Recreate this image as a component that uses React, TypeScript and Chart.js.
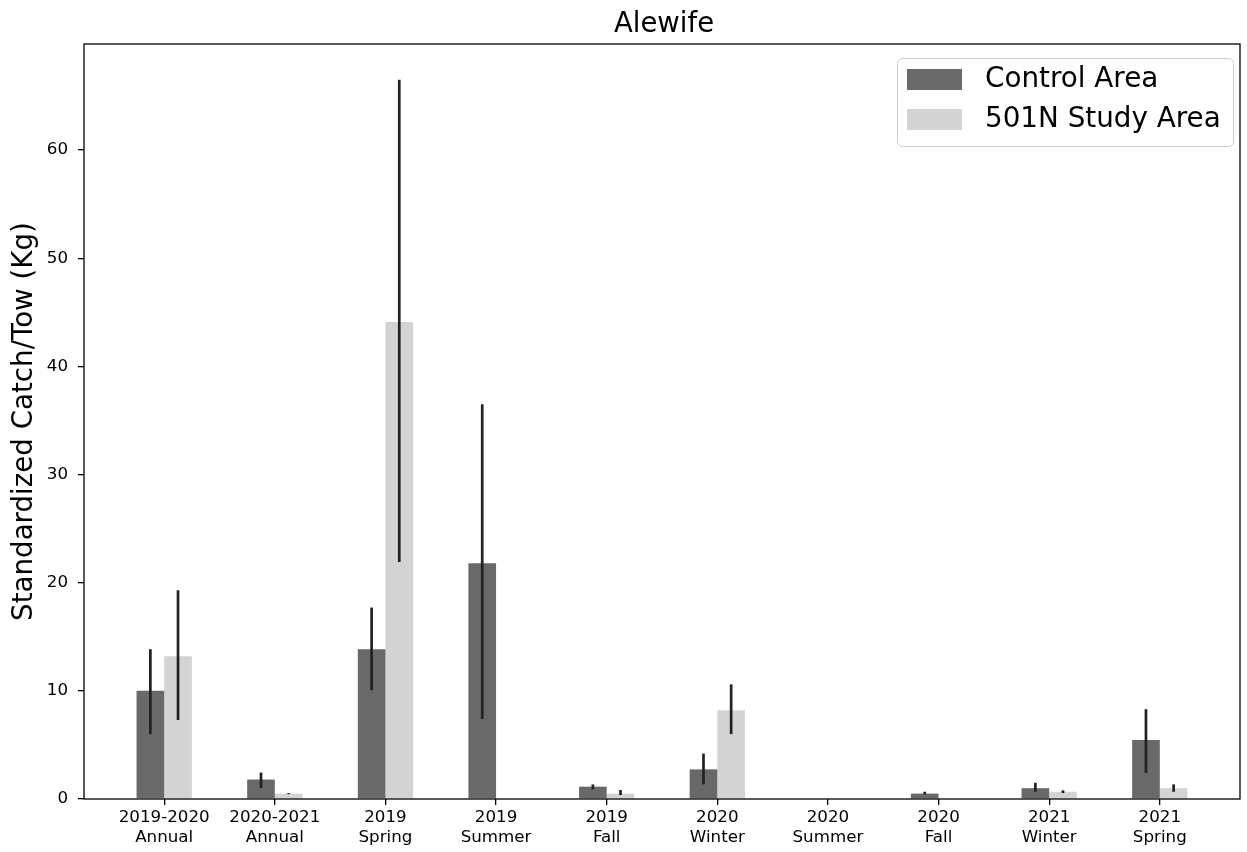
import { useEffect, useRef } from "react";
import { Chart, registerables } from "chart.js";

Chart.register(...registerables);

const FONT = "'DejaVu Sans', 'Noto Sans', sans-serif";

const chartTitle = "Alewife";
const yAxisTitle = "Standardized Catch/Tow (Kg)";
const seriesNames = ["Control Area", "501N Study Area"];
const seriesColors = ["#696969", "#d3d3d3"];

const categoryLines: string[][] = [
  ["2019-2020", "Annual"],
  ["2020-2021", "Annual"],
  ["2019", "Spring"],
  ["2019", "Summer"],
  ["2019", "Fall"],
  ["2020", "Winter"],
  ["2020", "Summer"],
  ["2020", "Fall"],
  ["2021", "Winter"],
  ["2021", "Spring"],
];

const controlValues = [10.0, 1.8, 13.85, 21.8, 1.14, 2.74, 0, 0.5, 1.0, 5.45];
const controlLow = [6.0, 1.0, 10.05, 7.4, 0.9, 1.35, null, 0.43, 0.67, 2.4];
const controlHigh = [13.85, 2.45, 17.7, 36.5, 1.35, 4.2, null, 0.67, 1.5, 8.3];

const studyValues = [13.2, 0.5, 44.1, 0, 0.5, 8.2, 0, 0, 0.67, 1.0];
const studyLow = [7.3, 0.45, 21.9, null, 0.37, 6.0, null, null, 0.55, 0.67];
const studyHigh = [19.3, 0.55, 66.5, null, 0.83, 10.6, null, null, 0.8, 1.35];

const yTickValues = [0, 10, 20, 30, 40, 50, 60];

const errorLows = [controlLow, studyLow];
const errorHighs = [controlHigh, studyHigh];

export default function App() {
  const ref = useRef<HTMLCanvasElement>(null);

  useEffect(() => {
    const canvas = ref.current!;

    const errorBarPlugin = {
      id: "errorBars",
      afterDatasetsDraw(chart: any) {
        const ctx = chart.ctx;
        const ys = chart.scales.y;
        ctx.save();
        ctx.strokeStyle = "#222222";
        ctx.lineWidth = 2.7;
        ctx.lineCap = "butt";
        chart.data.datasets.forEach((_: any, di: number) => {
          const meta = chart.getDatasetMeta(di);
          const lows = errorLows[di];
          const highs = errorHighs[di];
          meta.data.forEach((el: any, j: number) => {
            const lo = lows[j];
            const hi = highs[j];
            if (lo == null || hi == null) return;
            ctx.beginPath();
            ctx.moveTo(el.x, ys.getPixelForValue(lo));
            ctx.lineTo(el.x, ys.getPixelForValue(hi));
            ctx.stroke();
          });
        });
        ctx.restore();
      },
    };

    const framePlugin = {
      id: "frame",
      afterDatasetsDraw(chart: any) {
        const { ctx, chartArea } = chart;
        ctx.save();
        ctx.strokeStyle = "#000";
        ctx.lineWidth = 1.3;
        ctx.strokeRect(
          chartArea.left,
          chartArea.top,
          chartArea.right - chartArea.left,
          chartArea.bottom - chartArea.top
        );
        ctx.restore();
      },
    };

    const titlePlugin = {
      id: "customTitle",
      afterDraw(chart: any) {
        const { ctx, chartArea } = chart;
        ctx.save();
        ctx.fillStyle = "#000";
        ctx.font = `27.5px ${FONT}`;
        ctx.textAlign = "center";
        ctx.textBaseline = "alphabetic";
        ctx.fillText(chartTitle, (chartArea.left + chartArea.right) / 2 + 2, 32);
        ctx.restore();
      },
    };

    const legendPlugin = {
      id: "customLegend",
      afterDraw(chart: any) {
        const { ctx } = chart;
        ctx.save();
        const bx = 897.5, by = 58.5, bw = 336, bh = 88;
        ctx.beginPath();
        ctx.roundRect(bx, by, bw, bh, 5);
        ctx.fillStyle = "rgba(255,255,255,0.8)";
        ctx.fill();
        ctx.strokeStyle = "#cccccc";
        ctx.lineWidth = 1;
        ctx.stroke();
        ctx.font = `27.8px ${FONT}`;
        ctx.textAlign = "left";
        ctx.textBaseline = "middle";
        chart.data.datasets.forEach((ds: any, i: number) => {
          const py = 69 + i * 40;
          ctx.fillStyle = ds.backgroundColor;
          ctx.fillRect(907, py, 55, 21);
          ctx.fillStyle = "#000";
          ctx.fillText(ds.label, 985, py + 11);
        });
        ctx.restore();
      },
    };

    const chart = new Chart(canvas, {
      type: "bar",
      data: {
        datasets: [
          {
            label: seriesNames[0],
            data: controlValues.map((y, i) => ({ x: i, y })),
            backgroundColor: seriesColors[0],
            borderWidth: 0,
          },
          {
            label: seriesNames[1],
            data: studyValues.map((y, i) => ({ x: i, y })),
            backgroundColor: seriesColors[1],
            borderWidth: 0,
          },
        ],
      } as any,
      options: {
        responsive: false,
        animation: false,
        devicePixelRatio: 1,
        layout: { padding: { top: 44, right: 7, left: 0, bottom: 0 } },
        datasets: { bar: { categoryPercentage: 0.5, barPercentage: 1 } },
        plugins: {
          legend: { display: false },
          title: { display: false },
          tooltip: { enabled: false },
        },
        scales: {
          x: {
            type: "linear",
            min: -0.725,
            max: 9.725,
            offset: false,
            afterFit: (s: any) => {
              s.height = 53;
            },
            afterBuildTicks: (s: any) => {
              s.ticks = categoryLines.map((_, i) => ({ value: i }));
            },
            ticks: {
              callback: (v: any) => categoryLines[Math.round(Number(v))] ?? "",
              font: { family: FONT, size: 16.7 },
              color: "#000",
              padding: 3,
              maxRotation: 0,
              autoSkip: false,
            },
            grid: {
              drawOnChartArea: false,
              drawTicks: true,
              tickLength: 6,
              color: "#000",
              lineWidth: 1.3,
              offset: false,
            },
            border: { display: false },
          },
          y: {
            min: 0,
            max: 69.8,
            afterFit: (s: any) => {
              s.width = 84;
            },
            afterBuildTicks: (s: any) => {
              s.ticks = yTickValues.map((v) => ({ value: v }));
            },
            ticks: {
              callback: (v: any) => String(v),
              font: { family: FONT, size: 16.7 },
              color: "#000",
              padding: 10,
            },
            title: {
              display: true,
              text: yAxisTitle,
              font: { family: FONT, size: 27.7 },
              color: "#000",
              padding: { top: 8, bottom: 0 },
            },
            grid: {
              drawOnChartArea: false,
              drawTicks: true,
              tickLength: 6,
              color: "#000",
              lineWidth: 1.3,
            },
            border: { display: false },
          },
        },
      } as any,
      plugins: [errorBarPlugin, framePlugin, titlePlugin, legendPlugin],
    });

    return () => chart.destroy();
  }, []);

  return (
    <div style={{ position: "fixed", left: 0, top: 0, width: 1247, height: 852, background: "#fff" }}>
      <canvas ref={ref} width={1247} height={852} style={{ width: 1247, height: 852, display: "block" }} />
    </div>
  );
}
